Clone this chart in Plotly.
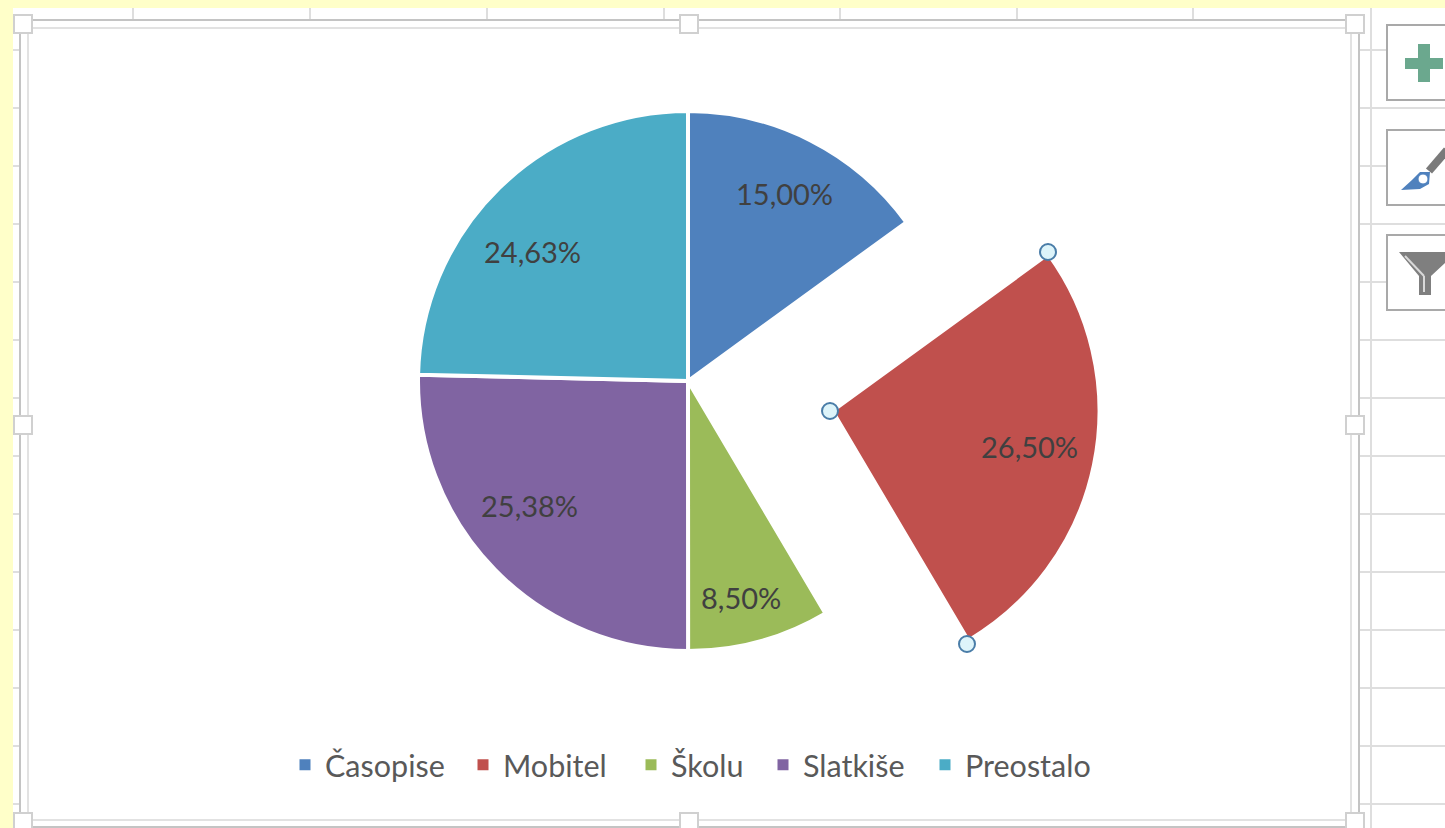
import plotly.graph_objects as go

W, H = 1445, 828

categories = ["Časopise", "Mobitel", "Školu", "Slatkiše", "Preostalo"]
values = [15.00, 26.50, 8.50, 25.38, 24.63]
value_labels = ["15,00%", "26,50%", "8,50%", "25,38%", "24,63%"]
colors = ["#4F81BD", "#C0504D", "#9BBB59", "#8064A2", "#4BACC6"]
TRANSPARENT = "rgba(0,0,0,0)"
PULLED = 1  # index of the exploded slice

# Where the data labels and legend swatches sit on the page (pixels)
label_pos = [(784, 193), (1029, 447), (741, 597), (529, 505), (532, 251)]
legend_swatch_x = [305, 483, 651, 783, 945]


def px(x):
    return x / W


def py(y):
    return 1 - y / H


def rect(x0, y0, x1, y1, fill=None, line=None, width=1, layer="below"):
    return dict(type="rect", xref="paper", yref="paper", x0=px(x0), x1=px(x1), y0=py(y0), y1=py(y1),
                fillcolor=fill or TRANSPARENT, line=dict(color=line or TRANSPARENT, width=width if line else 0), layer=layer)


def seg(x0, y0, x1, y1, color, width=2, layer="below"):
    return dict(type="line", xref="paper", yref="paper", x0=px(x0), x1=px(x1), y0=py(y0), y1=py(y1),
                line=dict(color=color, width=width), layer=layer)


def poly(points, fill, layer="below"):
    d = "M" + " L".join(f"{px(x):.5f},{py(y):.5f}" for x, y in points) + " Z"
    return dict(type="path", xref="paper", yref="paper", path=d, fillcolor=fill, line=dict(width=0), layer=layer)


def circle(cx, cy, r, fill, line, width=2):
    return dict(type="circle", xref="paper", yref="paper", x0=px(cx - r), x1=px(cx + r), y0=py(cy + r), y1=py(cy - r),
                fillcolor=fill, line=dict(color=line, width=width), layer="above")


def domain(cx, cy, r):
    return dict(x=[px(cx - r), px(cx + r)], y=[py(cy + r), py(cy - r)])


GRID = "#DEDEDE"
shapes = []
# Spreadsheet cell grid behind the chart
for x in (133, 310, 487, 664, 840, 1017, 1193):
    shapes.append(seg(x, 8, x, 20, GRID))
for y in range(50, 828, 58):
    shapes.append(seg(13, y, 20, y, GRID))
    shapes.append(seg(1360, y, 1445, y, GRID))
shapes.append(seg(1371, 8, 1371, 828, GRID))
# Yellow page surround
shapes.append(rect(0, 0, W, 8, fill="#FFFFC9"))
shapes.append(rect(0, 0, 13, H, fill="#FFFFC9"))
# Chart frame
shapes.append(rect(20, 20, 1359, 827, line="#C4C4C4", width=2))
shapes.append(rect(28, 28, 1351, 820, line="#E2E2E2", width=2))
for cx, cy in [(23, 24), (689, 24), (1355, 24), (23, 425), (1355, 425), (23, 822), (689, 822), (1355, 822)]:
    shapes.append(rect(cx - 9, cy - 9, cx + 9, cy + 9, fill="#FFFFFF", line="#D0D0D0", width=2))
# Side buttons
for y0, y1 in [(25, 100), (130, 205), (235, 310)]:
    shapes.append(rect(1387, y0, 1450, y1, fill="#FFFFFF", line="#A9A9A9", width=2))
shapes.append(rect(1418, 44, 1430, 82, fill="#6BA88E"))
shapes.append(rect(1405, 58, 1443, 69, fill="#6BA88E"))
shapes.append(seg(1429, 171, 1447, 150, "#7A7A7A", width=8))
shapes.append(poly([(1401, 190), (1412, 180), (1420, 172), (1430, 172), (1429, 184), (1420, 189)], "#4F81BD"))
shapes.append(circle(1423, 179, 5, "#FFFFFF", "#4F81BD", 1))
shapes[-1]["layer"] = "below"
shapes.append(poly([(1399, 252), (1445, 252), (1445, 263), (1431, 276), (1431, 295), (1419, 295), (1419, 276)], "#7F7F7F"))
shapes.append(seg(1405, 256, 1424, 276, "#D9D9D9", width=2))
shapes.append(seg(1424, 276, 1424, 292, "#D9D9D9", width=2))
# Selection handles on the exploded slice
for cx, cy in [(830, 411), (1048, 252), (967, 644)]:
    shapes.append(circle(cx, cy, 8, "#DDF4FA", "#4A7DA8"))

FONT = "Lato, Carlito, sans-serif"
label_font = dict(family=FONT, size=29, color="#404040")

fig = go.Figure()
# Main pie; the exploded slice is left transparent here and drawn by the second pie
fig.add_trace(go.Pie(
    labels=categories, values=values, sort=False, direction="clockwise", rotation=0,
    domain=domain(688, 381, 270), showlegend=False, textinfo="none",
    marker=dict(colors=[TRANSPARENT if i == PULLED else c for i, c in enumerate(colors)],
                line=dict(color=[TRANSPARENT if i == PULLED else "#FFFFFF" for i in range(5)], width=4)),
))
others = sum(values) - values[PULLED]
fig.add_trace(go.Pie(
    labels=[categories[PULLED], "ostalo"], values=[values[PULLED], others], sort=False,
    direction="clockwise", rotation=values[0] / sum(values) * 360,
    domain=domain(833, 411, 266), showlegend=False, textinfo="none",
    marker=dict(colors=[colors[PULLED], TRANSPARENT], line=dict(color=["#FFFFFF", TRANSPARENT], width=3)),
))

# One legend per entry so that each swatch keeps its own horizontal position
legend_layout = {}
for i, (name, c, sx) in enumerate(zip(categories, colors, legend_swatch_x)):
    key = "legend" if i == 0 else f"legend{i + 1}"
    fig.add_trace(go.Scatter(x=[None], y=[None], mode="markers", name=name, legend=key,
                             showlegend=True, marker=dict(symbol="square", size=11, color=c)))
    legend_layout[key] = dict(orientation="h", x=px(sx - 20), xanchor="left", y=py(765), yanchor="middle",
                              font=dict(family=FONT, size=30.5, color="#595959"),
                              itemwidth=30, bgcolor=TRANSPARENT)

annotations = [
    dict(text=t, x=px(x), y=py(y), xref="paper", yref="paper", xanchor="center", yanchor="middle",
         showarrow=False, font=label_font)
    for t, (x, y) in zip(value_labels, label_pos)
]

fig.update_layout(
    width=W, height=H, margin=dict(l=0, r=0, t=0, b=0, autoexpand=False),
    paper_bgcolor="#FFFFFF", plot_bgcolor="rgba(0,0,0,0)",
    xaxis=dict(visible=False), yaxis=dict(visible=False),
    shapes=shapes, annotations=annotations,
    **legend_layout,
)

fig.write_html("out.html", config={"displayModeBar": False},
               post_script="document.body.style.margin='0';document.documentElement.style.overflow='hidden';")
